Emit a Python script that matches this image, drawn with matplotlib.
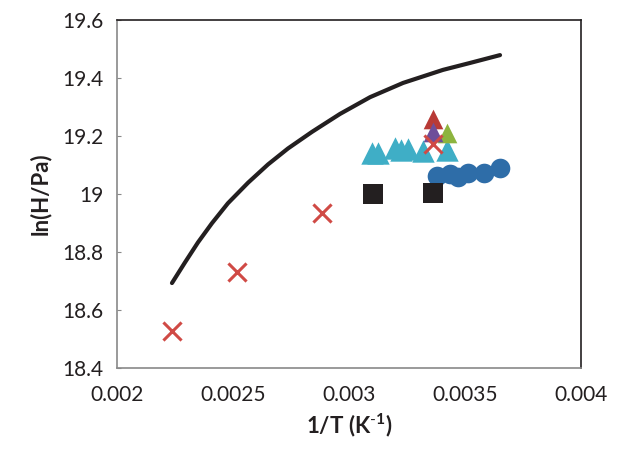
import matplotlib
matplotlib.use("Agg")
import matplotlib.pyplot as plt

plt.rcParams['font.family'] = ['Lato', 'DejaVu Sans']
plt.rcParams['mathtext.fontset'] = 'custom'
plt.rcParams['mathtext.rm'] = 'Lato'
plt.rcParams['mathtext.bf'] = 'Lato:bold'

# Black curve
line_x = [0.002237, 0.002293, 0.002349, 0.002409, 0.002478, 0.002565, 0.002651,
          0.002737, 0.00284, 0.002875, 0.002961, 0.003091, 0.003233, 0.003405,
          0.003522, 0.003651]
line_y = [18.693, 18.764, 18.833, 18.899, 18.968, 19.039, 19.102,
          19.157, 19.214, 19.232, 19.276, 19.334, 19.383, 19.428,
          19.452, 19.479]

# Red crosses
cross_x = [0.002237, 0.002517, 0.002884, 0.003362]
cross_y = [18.528, 18.731, 18.934, 19.172]

# Black squares
square_x = [0.003103, 0.003362]
square_y = [19.0, 19.003]

# Blue circles
circle_x = [0.003379, 0.003435, 0.003470, 0.003513, 0.003582, 0.003651]
circle_y = [19.062, 19.069, 19.058, 19.072, 19.072, 19.088]

# Cyan triangles
cyan_x = [0.003099, 0.003125, 0.003198, 0.003224, 0.003254, 0.003319, 0.003422]
cyan_y = [19.141, 19.141, 19.159, 19.152, 19.155, 19.148, 19.152]

# Single triangles
red_tri = ([0.003362], [19.259])
purple_tri = ([0.003362], [19.214])
green_tri = ([0.003422], [19.21])

xticks = [0.002, 0.0025, 0.003, 0.0035, 0.004]
xtick_labels = ['0.002', '0.0025', '0.003', '0.0035', '0.004']
yticks = [18.4, 18.6, 18.8, 19.0, 19.2, 19.4, 19.6]
ytick_labels = ['18.4', '18.6', '18.8', '19', '19.2', '19.4', '19.6']

fig = plt.figure(figsize=(6.27, 4.58), dpi=100)
ax = fig.add_axes([0.1866, 0.1965, 0.74, 0.7598])

ax.plot(line_x, line_y, color='#231F20', lw=3.0, solid_capstyle='round',
        solid_joinstyle='round', zorder=2)
ax.scatter(cyan_x, cyan_y, marker='^', s=260, color='#3FAEC6', linewidths=0, zorder=3)
ax.scatter(circle_x, circle_y, marker='o', s=200, color='#2E6DA8', linewidths=0, zorder=3)
ax.scatter(square_x, square_y, marker='s', s=200, color='#231F20', linewidths=0, zorder=3)
ax.scatter(*red_tri, marker='^', s=200, color='#B83A36', linewidths=0, zorder=4)
ax.scatter(*green_tri, marker='^', s=200, color='#8DB43E', linewidths=0, zorder=4)
ax.scatter(*purple_tri, marker='^', s=200, color='#6E4E9A', linewidths=0, zorder=5)
ax.scatter(cross_x, cross_y, marker='x', s=170, color='#D04A45', linewidths=2.2, zorder=6)

ax.set_xlim(0.002, 0.004)
ax.set_ylim(18.4, 19.6)
ax.set_xticks(xticks)
ax.set_xticklabels(xtick_labels)
ax.set_yticks(yticks)
ax.set_yticklabels(ytick_labels)

ax.tick_params(axis='x', length=0, pad=12, labelsize=15, labelcolor='#231F20')
ax.tick_params(axis='y', direction='in', length=3, color='#898989', pad=10,
               labelsize=15, labelcolor='#231F20')

for side in ['left', 'bottom']:
    ax.spines[side].set_color('#898989')
    ax.spines[side].set_linewidth(1.2)
for side in ['top', 'right']:
    ax.spines[side].set_color('#231F20')
    ax.spines[side].set_linewidth(1.2)

ax.set_xlabel(r'1/T (K$^{\mathbf{\text{-}1}}$)', fontsize=16, fontweight='bold',
              color='#231F20', labelpad=5)
ax.set_ylabel('ln(H/Pa)', fontsize=16, fontweight='bold', color='#231F20', labelpad=8)

fig.savefig('out.png', dpi=100)
